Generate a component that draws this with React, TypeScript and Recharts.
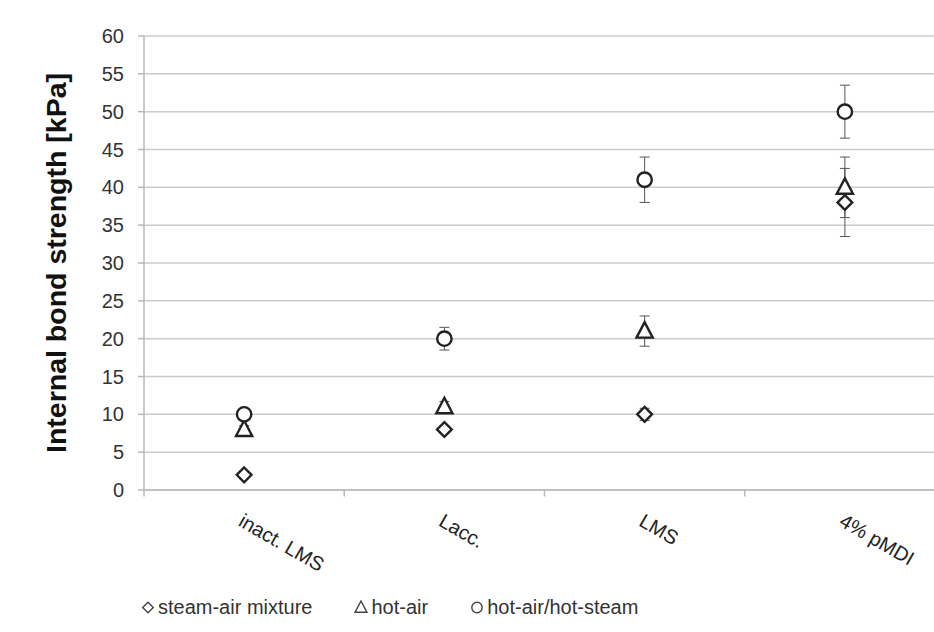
import React from 'react';
import {
  ComposedChart,
  Scatter,
  ErrorBar,
  XAxis,
  YAxis,
  CartesianGrid,
  Legend,
  ReferenceLine,
} from 'recharts';

const categories = ['inact. LMS', 'Lacc.', 'LMS', '4% pMDI'];
const steamAir = [2, 8, 10, 38];
const steamAirErr = [0.5, 0.5, 0.8, 4.5];
const hotAir = [8, 11, 21, 40];
const hotAirErr = [0.5, 0.7, 2, 4];
const hotAirSteam = [10, 20, 41, 50];
const hotAirSteamErr = [0.5, 1.5, 3, 3.5];
const yTicks = [0, 5, 10, 15, 20, 25, 30, 35, 40, 45, 50, 55, 60];

const data = categories.map((cat, i) => ({
  cat,
  steamAir: steamAir[i],
  steamAirErr: steamAirErr[i],
  hotAir: hotAir[i],
  hotAirErr: hotAirErr[i],
  hotAirSteam: hotAirSteam[i],
  hotAirSteamErr: hotAirSteamErr[i],
}));

const FONT = '"Liberation Sans", Arial, sans-serif';
const INK = '#222';
const GRID = '#cccccc';
const AXIS = '#b8b8b8';

type MarkerKind = 'diamond' | 'triangle' | 'circle';

const Marker = ({ kind, cx, cy, s = 9, sw = 2.4, color = INK }: { kind: MarkerKind; cx: number; cy: number; s?: number; sw?: number; color?: string }) => {
  if (kind === 'diamond') {
    const d = s * 0.82;
    return <path d={`M${cx},${cy - d}L${cx + d},${cy}L${cx},${cy + d}L${cx - d},${cy}Z`} fill="#fff" stroke={color} strokeWidth={sw} />;
  }
  if (kind === 'triangle') {
    return (
      <path
        d={`M${cx},${cy - s}L${cx + s * 0.9},${cy + s * 0.72}L${cx - s * 0.9},${cy + s * 0.72}Z`}
        fill="#fff"
        stroke={color}
        strokeWidth={sw}
      />
    );
  }
  return <circle cx={cx} cy={cy} r={s * 0.8} fill="#fff" stroke={color} strokeWidth={sw} />;
};

const series: { key: string; err: string; name: string; kind: MarkerKind }[] = [
  { key: 'steamAir', err: 'steamAirErr', name: 'steam-air mixture', kind: 'diamond' },
  { key: 'hotAir', err: 'hotAirErr', name: 'hot-air', kind: 'triangle' },
  { key: 'hotAirSteam', err: 'hotAirSteamErr', name: 'hot-air/hot-steam', kind: 'circle' },
];

const CategoryTick = (props: any) => {
  const { x, y, payload } = props;
  const tx = x - 7;
  const ty = y + 27;
  return (
    <text
      x={tx}
      y={ty}
      textAnchor="start"
      transform={`rotate(30 ${tx} ${ty})`}
      fontFamily={FONT}
      fontSize={20}
      fill={INK}
    >
      {payload.value}
    </text>
  );
};

const LegendContent = () => (
  <div
    style={{
      display: 'flex',
      alignItems: 'center',
      height: 40,
      paddingLeft: 141,
      gap: 42,
      fontFamily: FONT,
      fontSize: 20,
      color: '#333',
    }}
  >
    {series.map((s) => (
      <div key={s.key} style={{ display: 'flex', alignItems: 'center' }}>
        <svg width={14} height={14} style={{ marginRight: 3 }}>
          <Marker kind={s.kind} cx={7} cy={7.5} s={6.5} sw={1.4} color="#444" />
        </svg>
        <span>{s.name}</span>
      </div>
    ))}
  </div>
);

export default function App() {
  return (
    <div
      style={{
        position: 'absolute',
        left: 0,
        top: 0,
        width: 934,
        height: 632,
        overflow: 'hidden',
        background: '#fff',
      }}
    >
      <ComposedChart width={950} height={632} data={data} margin={{ top: 36, right: 5, left: 0, bottom: 5 }}>
        <CartesianGrid vertical={false} stroke={GRID} strokeWidth={1.5} />
        <XAxis
          dataKey="cat"
          type="category"
          scale="band"
          tickLine={false}
          axisLine={{ stroke: AXIS, strokeWidth: 1.5 }}
          height={97}
          interval={0}
          tick={<CategoryTick />}
        />
        <YAxis
          type="number"
          domain={[0, 60]}
          ticks={yTicks}
          interval={0}
          width={144}
          tickSize={6}
          tickMargin={14}
          tickLine={{ stroke: AXIS, strokeWidth: 1.5 }}
          axisLine={{ stroke: AXIS, strokeWidth: 1.5 }}
          tick={{ fontFamily: FONT, fontSize: 20, fill: '#333' }}
          label={{
            value: 'Internal bond strength [kPa]',
            angle: -90,
            position: 'center',
            dx: -16,
            style: { fontFamily: FONT, fontSize: 28.5, fontWeight: 'bold', fill: '#111', textAnchor: 'middle' },
          }}
        />
        {categories.map((c) => (
          <ReferenceLine
            key={c}
            position="start"
            segment={[
              { x: c, y: 0 },
              { x: c, y: -0.85 },
            ]}
            ifOverflow="visible"
            stroke={AXIS}
            strokeWidth={1.5}
          />
        ))}
        {series.map((s) => (
          <Scatter
            key={s.key}
            name={s.name}
            dataKey={s.key}
            isAnimationActive={false}
            shape={(p: any) => <Marker kind={s.kind} cx={p.cx} cy={p.cy} />}
          >
            <ErrorBar dataKey={s.err} direction="y" width={5} stroke="#555" strokeWidth={1} />
          </Scatter>
        ))}
        <Legend verticalAlign="bottom" height={40} wrapperStyle={{ left: 0, width: 934 }} content={<LegendContent />} />
      </ComposedChart>
    </div>
  );
}
